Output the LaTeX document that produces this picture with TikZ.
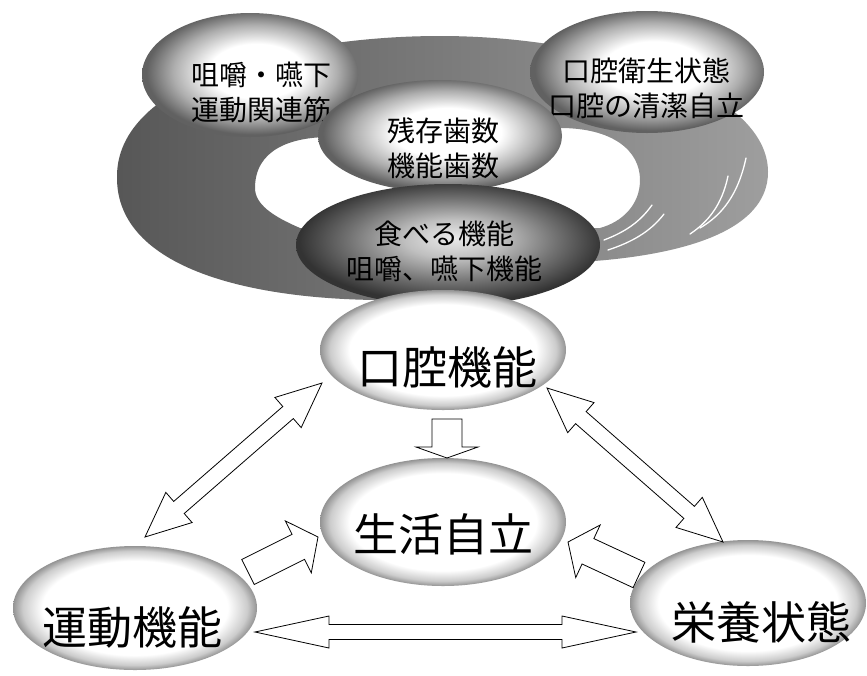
\documentclass[tikz,border=0pt]{standalone}
\usepackage{fontspec}
\newfontfamily\jp{Noto Sans CJK JP}
\usetikzlibrary{calc,shapes.geometric}
\colorlet{rimA}{black!42}
\colorlet{rimB}{black!20}
\colorlet{midA}{black!62}
\colorlet{midB}{black!32}
\colorlet{darkA}{black!80}
\colorlet{darkB}{black!55}
\colorlet{darkC}{black!25}
\colorlet{darkD}{black!8}
\pgfdeclareradialshading{rimlight}{\pgfpoint{0bp}{0bp}}{color(0bp)=(white); color(19bp)=(white); color(23bp)=(rimB); color(25bp)=(rimA); color(50bp)=(rimA)}
\pgfdeclareradialshading{rimmid}{\pgfpoint{2bp}{2bp}}{color(0bp)=(white); color(11bp)=(white); color(19bp)=(midB); color(25bp)=(midA); color(50bp)=(midA)}
\pgfdeclareradialshading{rimdark}{\pgfpoint{1bp}{3bp}}{color(0bp)=(darkD); color(8bp)=(darkC); color(17bp)=(darkB); color(25bp)=(darkA); color(50bp)=(darkA)}
\tikzset{
  blob/.style={ellipse, draw=none, inner sep=0pt},
  smalltext/.style={font=\jp\fontsize{28}{35}\selectfont, align=center, inner sep=0pt},
  bigtext/.style={font=\jp\fontsize{45}{50}\selectfont, inner sep=0pt},
  blockarrow/.style={draw=black, fill=white, line width=0.8pt, line join=miter},
  streak/.style={white, line width=1.3pt, line cap=round},
  dblarrow/.style n args={3}{blockarrow, to path={
    -- ($(\tikztostart)!#1!(\tikztotarget)!#2!90:(\tikztotarget)$)
    -- ($(\tikztostart)!#1!(\tikztotarget)!#3!90:(\tikztotarget)$)
    -- ($(\tikztotarget)!#1!(\tikztostart)!#3!-90:(\tikztostart)$)
    -- ($(\tikztotarget)!#1!(\tikztostart)!#2!-90:(\tikztostart)$)
    -- (\tikztotarget)
    -- ($(\tikztotarget)!#1!(\tikztostart)!#2!90:(\tikztostart)$)
    -- ($(\tikztotarget)!#1!(\tikztostart)!#3!90:(\tikztostart)$)
    -- ($(\tikztostart)!#1!(\tikztotarget)!#3!-90:(\tikztotarget)$)
    -- ($(\tikztostart)!#1!(\tikztotarget)!#2!-90:(\tikztotarget)$)
    -- cycle}},
  sglarrow/.style n args={3}{blockarrow, to path={
    -- ($(\tikztostart)!#3!90:(\tikztotarget)$)
    -- ($(\tikztotarget)!#1!(\tikztostart)!#3!-90:(\tikztostart)$)
    -- ($(\tikztotarget)!#1!(\tikztostart)!#2!-90:(\tikztostart)$)
    -- (\tikztotarget)
    -- ($(\tikztotarget)!#1!(\tikztostart)!#2!90:(\tikztostart)$)
    -- ($(\tikztotarget)!#1!(\tikztostart)!#3!90:(\tikztostart)$)
    -- ($(\tikztostart)!#3!-90:(\tikztotarget)$)
    -- cycle}}
}
\begin{document}
\begin{tikzpicture}[x=1pt,y=-1pt]
\useasboundingbox[fill=white] (0,0) rectangle (867,675);

% the grey ring behind the upper bubbles
\shade[left color=black!66, right color=black!38, even odd rule]
  (117,178) .. controls (115,80) and (290,36) .. (440,36)
  .. controls (600,36) and (768,90) .. (768,172)
  .. controls (768,232) and (680,256) .. (580,262)
  -- (400,300) .. controls (250,302) and (117,268) .. (117,178) -- cycle
  (255,188) .. controls (255,150) and (290,137) .. (330,137)
  -- (560,128) .. controls (612,128) and (640,150) .. (640,180)
  .. controls (640,205) and (622,222) .. (600,228)
  -- (300,228) .. controls (272,216) and (255,204) .. (255,188) -- cycle;
\draw[streak] (746,158) .. controls (738,195) and (722,215) .. (700,228);
\draw[streak] (728,176) .. controls (722,205) and (708,222) .. (690,234);
\draw[streak] (652,205) .. controls (640,222) and (625,232) .. (604,240);
\draw[streak] (664,214) .. controls (650,232) and (632,242) .. (608,250);

% upper bubbles
\node[blob, shade, shading=rimmid, minimum width=216pt, minimum height=124pt] (chew) at (250,75) {};
\node[smalltext] (chewT) at (261,92) {咀嚼・嚥下\\運動関連筋};

\node[blob, shade, shading=rimmid, minimum width=234pt, minimum height=122pt] (hyg) at (647,72) {};
\node[smalltext] (hygT) at (646,88) {口腔衛生状態\\口腔の清潔自立};

\node[blob, shade, shading=rimmid, minimum width=244pt, minimum height=112pt] (teeth) at (440,136) {};
\node[smalltext] (teethT) at (443,148) {残存歯数\\機能歯数};

\node[blob, shade, shading=rimdark, minimum width=304pt, minimum height=122pt] (eat) at (448,245) {};
\node[smalltext] (eatT) at (444,251) {食べる機能\\咀嚼、嚥下機能};

% main bubbles
\node[blob, shade, shading=rimlight, minimum width=246pt, minimum height=120pt] (oral) at (443,350) {};
\node[bigtext] (oralT) at (447,367) {口腔機能};

\node[blob, shade, shading=rimlight, minimum width=246pt, minimum height=128pt] (life) at (443,522) {};
\node[bigtext] (lifeT) at (443,534) {生活自立};

\node[blob, shade, shading=rimlight, minimum width=244pt, minimum height=124pt] (motor) at (135,608) {};
\node[bigtext] (motorT) at (132,627) {運動機能};

\node[blob, shade, shading=rimlight, minimum width=236pt, minimum height=126pt] (nutr) at (748,603) {};
\node[bigtext] (nutrT) at (761,622) {栄養状態};

% arrow end points
\coordinate (oralL) at (322,383);
\coordinate (motorU) at (145,537);
\coordinate (oralR) at (547,388);
\coordinate (nutrU) at (723,542);
\coordinate (motorR) at (255,632);
\coordinate (nutrL) at (636,632);
\coordinate (oralB) at (447,419);
\coordinate (lifeU) at (447,458);
\coordinate (motorTail) at (248,572);
\coordinate (lifeL) at (318,537);
\coordinate (nutrTail) at (639,575);
\coordinate (lifeR) at (568,542);

% connectors
\draw[dblarrow={45pt}{20pt}{8pt}] (oralL) to (motorU);
\draw[dblarrow={45pt}{20pt}{8pt}] (oralR) to (nutrU);
\draw[dblarrow={74pt}{16pt}{7.5pt}] (motorR) to (nutrL);
\draw[sglarrow={11pt}{31pt}{15pt}] (oralB) to (lifeU);
\draw[sglarrow={22pt}{29pt}{14pt}] (motorTail) to (lifeL);
\draw[sglarrow={22pt}{29pt}{14pt}] (nutrTail) to (lifeR);
\end{tikzpicture}
\end{document}
